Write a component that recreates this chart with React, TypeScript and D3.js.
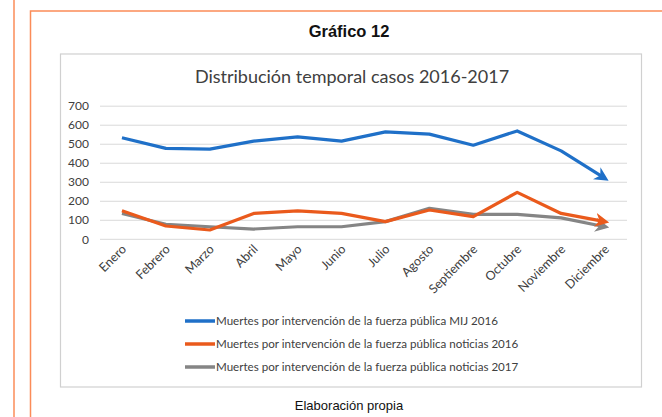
import React from "react";
import * as d3 from "d3";

const months = ["Enero","Febrero","Marzo","Abril","Mayo","Junio","Julio","Agosto","Septiembre","Octubre","Noviembre","Diciembre"];
const mij2016 = [534, 478, 474, 516, 539, 516, 565, 553, 495, 570, 465, 320];
const noticias2016 = [150, 70, 49, 136, 150, 136, 93, 154, 119, 247, 136, 93];
const noticias2017 = [136, 79, 66, 54, 66, 66, 93, 163, 131, 131, 113, 66];
const yTicks = [0, 100, 200, 300, 400, 500, 600, 700];
const seriesNames = [
  "Muertes por intervención de la fuerza pública MIJ 2016",
  "Muertes por intervención de la fuerza pública noticias 2016",
  "Muertes por intervención de la fuerza pública noticias 2017",
];
const seriesColors = ["#1f70c8", "#ea5a1c", "#858585"];

const W = 662, H = 417;
const FONT = "Lato, 'Open Sans', sans-serif";

export default function App() {
  const x = d3.scaleBand<string>().domain(months).range([100, 627]);
  const y = d3.scaleLinear().domain([0, 700]).range([239.3, 106.2]);
  const line = d3.line<number>()
    .x((_, i) => (x(months[i]) as number) + x.bandwidth() / 2)
    .y((d) => y(d));
  const series = [mij2016, noticias2016, noticias2017];

  return (
    <div style={{ position: "absolute", left: 0, top: 0 }}>
      <svg width={W} height={H} style={{ display: "block", background: "#fff" }}>
        <defs>
          {seriesColors.map((c, i) => (
            <marker key={i} id={`arr${i}`} viewBox="0 0 10 10" refX="7" refY="5"
              markerWidth="4.4" markerHeight="4.4" orient="auto" markerUnits="strokeWidth">
              <path d="M0,0 L10,5 L0,10 L3,5 Z" fill={c} />
            </marker>
          ))}
        </defs>
        {/* orange frame */}
        <line x1={14} x2={14} y1={0} y2={H} stroke="#fb8c58" strokeWidth={1.5} />
        <path d={`M30.5,${H} L30.5,11 L${W},11`} fill="none" stroke="#fb8c58" strokeWidth={1.5} />
        <text x={349} y={37} textAnchor="middle" fontFamily="Arial, 'Liberation Sans', sans-serif"
          fontWeight="bold" fontSize={16.5} fill="#111">Gráfico 12</text>
        {/* chart box */}
        <rect x={60.5} y={54} width={581} height={333} fill="#fff" stroke="#d0d0d0" strokeWidth={1.2} />
        <text x={352} y={83} textAnchor="middle" fontFamily={FONT} fontSize={18} fill="#404040">
          Distribución temporal casos 2016-2017
        </text>
        {/* gridlines */}
        {yTicks.map((t) => (
          <g key={t}>
            <line x1={100} x2={627} y1={y(t)} y2={y(t)} stroke="#d9d9d9" strokeWidth={1} />
            <text x={89} y={y(t)} dy="0.35em" textAnchor="end" fontFamily={FONT} fontSize={12} fill="#404040">{t}</text>
          </g>
        ))}
        {/* x labels */}
        {months.map((m) => {
          const cx = (x(m) as number) + x.bandwidth() / 2;
          return (
            <text key={m} transform={`translate(${cx + 5},${250}) rotate(-45)`} textAnchor="end"
              fontFamily={FONT} fontSize={12.5} fill="#404040">{m}</text>
          );
        })}
        {/* series lines */}
        {series.map((s, i) => (
          <path key={i} d={line(s) as string} fill="none" stroke={seriesColors[i]} strokeWidth={3.2}
            strokeLinejoin="round" markerEnd={`url(#arr${i})`} />
        )).reverse()}
        {/* legend */}
        {seriesNames.map((n, i) => {
          const ly = 321 + i * 23;
          return (
            <g key={n}>
              <line x1={185} x2={215} y1={ly} y2={ly} stroke={seriesColors[i]} strokeWidth={3.5} />
              <text x={216} y={ly} dy="0.35em" fontFamily={FONT} fontSize={11.6} fill="#404040">{n}</text>
            </g>
          );
        })}
        <text x={349} y={410} textAnchor="middle" fontFamily="Arial, 'Liberation Sans', sans-serif"
          fontSize={13} fill="#111">Elaboración propia</text>
      </svg>
    </div>
  );
}
